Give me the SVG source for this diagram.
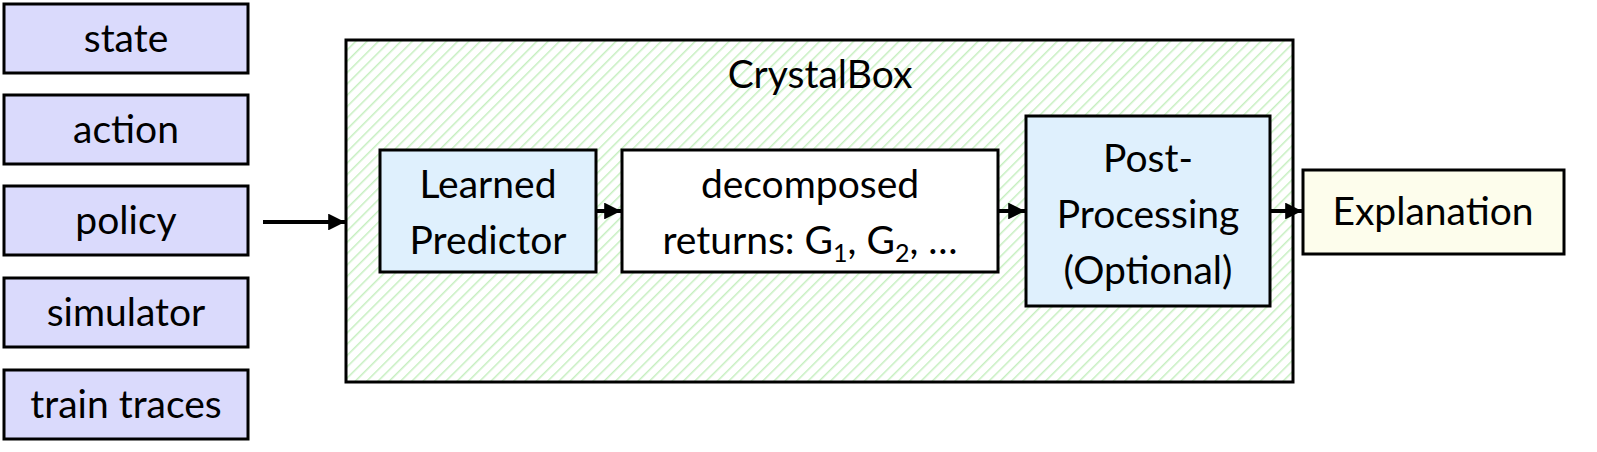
<svg xmlns="http://www.w3.org/2000/svg" width="1597" height="452" viewBox="0 0 1597 452">
<style>
.b{stroke:#000;stroke-width:3}
.in{fill:#dadafc}
.t{font-family:Lato,"Liberation Sans",sans-serif;font-size:39px;fill:#000;text-anchor:middle}
.c{stroke:#000;stroke-width:4;fill:none}
</style>
<defs>
<pattern id="h" width="8" height="8" patternUnits="userSpaceOnUse" patternTransform="rotate(45)">
<rect width="8" height="8" fill="#fff"/>
<line x1="0" y1="0" x2="0" y2="8" stroke="#c6efc0" stroke-width="3"/>
</pattern>
<marker id="a" viewBox="0 0 10 10" refX="10" refY="5" markerWidth="4.2" markerHeight="4.2" orient="auto" markerUnits="strokeWidth">
<path d="M0,0L10,5L0,10z" fill="#000"/>
</marker>
</defs>
<g id="state"><rect class="b in" x="4" y="4" width="244" height="69"/><text class="t" x="126" y="52">state</text></g>
<g id="action"><rect class="b in" x="4" y="95" width="244" height="69"/><text class="t" x="126" y="143">action</text></g>
<g id="policy"><rect class="b in" x="4" y="186" width="244" height="69"/><text class="t" x="126" y="234">policy</text></g>
<g id="simulator"><rect class="b in" x="4" y="278" width="244" height="69"/><text class="t" x="126" y="326">simulator</text></g>
<g id="traces"><rect class="b in" x="4" y="370" width="244" height="69"/><text class="t" x="126" y="418">train traces</text></g>
<g id="crystalbox"><rect class="b" x="346" y="40" width="947" height="342" fill="url(#h)"/><text class="t" x="820" y="88">CrystalBox</text></g>
<g id="predictor"><rect class="b" x="380" y="150" width="216" height="122" fill="#dff0fd"/><text class="t" x="488" y="198">Learned</text><text class="t" x="488" y="254">Predictor</text></g>
<g id="returns"><rect class="b" x="622" y="150" width="376" height="122" fill="#fff"/><text class="t" x="810" y="198">decomposed</text><text class="t" x="810" y="254">returns: G<tspan font-size="25" dy="8">1</tspan><tspan dy="-8">, G</tspan><tspan font-size="25" dy="8">2</tspan><tspan dy="-8">, …</tspan></text></g>
<g id="post"><rect class="b" x="1026" y="116" width="244" height="190" fill="#dff0fd"/><text class="t" x="1148" y="172">Post-</text><text class="t" x="1148" y="228">Processing</text><text class="t" x="1148" y="284">(Optional)</text></g>
<g id="explanation"><rect class="b" x="1303" y="170" width="261" height="84" fill="#fdfdec"/><text class="t" x="1433" y="225">Explanation</text></g>
<g id="connectors">
<line class="c" x1="263" y1="222" x2="345" y2="222" marker-end="url(#a)"/>
<line class="c" x1="597" y1="211" x2="621" y2="211" marker-end="url(#a)"/>
<line class="c" x1="999" y1="211" x2="1025" y2="211" marker-end="url(#a)"/>
<line class="c" x1="1271" y1="211" x2="1302" y2="211" marker-end="url(#a)"/>
</g>
</svg>
